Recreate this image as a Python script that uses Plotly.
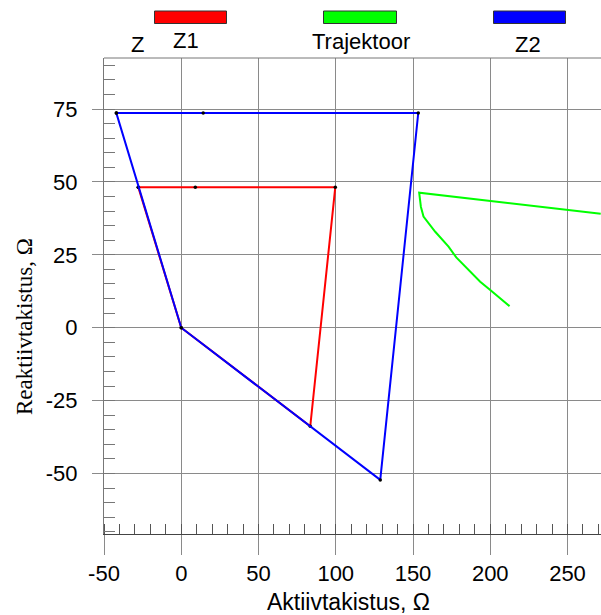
import plotly.graph_objects as go

# ---- data ----
z1_r = [-27.8, 9.1, 99.7, 83.5, 0.0, -27.8]
z1_x = [48.2, 48.2, 48.2, -33.8, 0.0, 48.2]

z2_r = [-42.0, 14.2, 153.4, 128.8, 0.0, -42.0]
z2_x = [73.6, 73.6, 73.6, -52.2, 0.0, 73.6]

traj_r = [271.5, 154.0, 155.1, 156.8, 164.4, 173.0, 178.0, 184.9, 193.5, 200.0, 212.5]
traj_x = [39.1, 46.3, 41.5, 38.1, 32.9, 27.8, 24.1, 20.4, 15.8, 12.9, 7.4]

x_ticks = [-50, 0, 50, 100, 150, 200, 250]
y_ticks = [-50, -25, 0, 25, 50, 75]
x_ticktext = [str(v) for v in x_ticks]
y_ticktext = [str(v) for v in y_ticks]

legend_names = ["Z1", "Trajektoor", "Z2"]
legend_colors = ["#ff0000", "#00ff00", "#0000ff"]

# ---- layout geometry (pixels) ----
W, H = 601, 615
L, R, T, B = 104, 0, 58, 81
PW, PH = W - L - R, H - T - B


def px(xp):
    return (xp - L) / PW


def py(yp):
    return (H - B - yp) / PH


fig = go.Figure()
fig.add_trace(go.Scatter(x=z1_r, y=z1_x, mode="lines+markers",
                         line=dict(color="#ff0000", width=2),
                         marker=dict(color="black", size=3.5), name="Z1"))
fig.add_trace(go.Scatter(x=traj_r, y=traj_x, mode="lines",
                         line=dict(color="#00ff00", width=2), name="Trajektoor"))
fig.add_trace(go.Scatter(x=z2_r, y=z2_x, mode="lines+markers",
                         line=dict(color="#0000ff", width=2),
                         marker=dict(color="black", size=3.5), name="Z2"))

grid = "#8a8a8a"
tickfont = dict(family="Liberation Sans, Arial", size=22, color="black")

fig.update_xaxes(range=[-50, -50 + PW / 1.545], tickvals=x_ticks, ticktext=x_ticktext,
                 showgrid=True, gridcolor=grid, gridwidth=1,
                 ticks="outside", ticklen=20, tickcolor=grid, tickwidth=1,
                 showline=True, linecolor="#444", linewidth=1, mirror=False,
                 zeroline=False, tickfont=tickfont,
                 minor=dict(dtick=10, tick0=0, ticks="inside", ticklen=10,
                            tickcolor="#555", showgrid=False))
fig.update_yaxes(range=[-70.75, 92.5], tickvals=y_ticks, ticktext=y_ticktext,
                 showgrid=True, gridcolor=grid, gridwidth=1,
                 ticks="outside", ticklen=11, tickcolor=grid, tickwidth=1,
                 showline=True, linecolor="#777", linewidth=1, mirror=False,
                 zeroline=False, tickfont=tickfont, ticklabelstandoff=10,
                 minor=dict(dtick=5, tick0=0, ticks="inside", ticklen=11,
                            tickcolor="#777", showgrid=False))

shapes = []
# top border line
shapes.append(dict(type="line", xref="paper", yref="paper", x0=0, x1=1, y0=1, y1=1,
                   line=dict(color="#777", width=1)))
rects = [(154.5, 226.5), (323.5, 396.5), (493.5, 565.5)]
for (a, b), c in zip(rects, legend_colors):
    shapes.append(dict(type="rect", xref="paper", yref="paper",
                       x0=px(a), x1=px(b), y0=py(23.5), y1=py(11),
                       fillcolor=c, line=dict(color="#333", width=1)))

lab_font = dict(family="Liberation Sans, Arial", size=22, color="black")
annotations = [
    dict(text="Z", x=px(137), y=py(44), xref="paper", yref="paper", showarrow=False,
         font=lab_font, xanchor="center", yanchor="middle"),
    dict(text=legend_names[0], x=px(186), y=py(41), xref="paper", yref="paper", showarrow=False,
         font=lab_font, xanchor="center", yanchor="middle"),
    dict(text=legend_names[1], x=px(361), y=py(42), xref="paper", yref="paper", showarrow=False,
         font=lab_font, xanchor="center", yanchor="middle"),
    dict(text=legend_names[2], x=px(528), y=py(44), xref="paper", yref="paper", showarrow=False,
         font=lab_font, xanchor="center", yanchor="middle"),
    dict(text="Aktiivtakistus, Ω", x=px(348), y=py(602), xref="paper", yref="paper",
         showarrow=False, font=dict(family="Liberation Sans, Arial", size=23, color="black"),
         xanchor="center", yanchor="middle"),
    dict(text="Reaktiivtakistus, Ω", x=px(24), y=py(327), xref="paper", yref="paper",
         showarrow=False, textangle=-90,
         font=dict(family="Liberation Serif, Times New Roman", size=23, color="black"),
         xanchor="center", yanchor="middle"),
]

fig.update_layout(width=W, height=H, margin=dict(l=L, r=R, t=T, b=B, pad=0),
                  plot_bgcolor="white", paper_bgcolor="white", showlegend=False,
                  shapes=shapes, annotations=annotations)

fig.write_html("out.html")
